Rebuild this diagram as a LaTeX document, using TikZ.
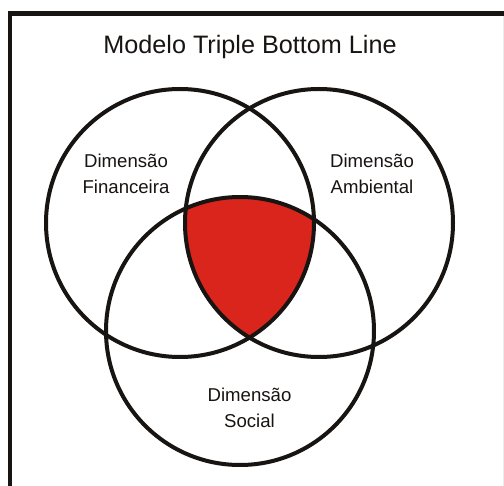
\documentclass[tikz,border=0pt]{standalone}
\usepackage{fontspec}
\setmainfont{Liberation Sans}
\definecolor{vred}{RGB}{218,37,28}
\definecolor{vink}{RGB}{24,20,18}
\begin{document}
\begin{tikzpicture}[x=1pt,y=-1pt,
  ring/.style={draw=vink,line width=4pt},
  frameline/.style={draw=vink,line width=4.5pt},
  lbl/.style={align=center,inner sep=0pt,anchor=base,text=vink,font=\fontsize{18.6}{25.5}\selectfont},
  ttl/.style={inner sep=0pt,anchor=base,text=vink,font=\fontsize{25.2}{30}\selectfont}]
\useasboundingbox (0,0) rectangle (504,486);
\fill[white] (0,0) rectangle (504,486);
% frame
\coordinate (fa) at (10,486);
\coordinate (fb) at (10,13.5);
\coordinate (fc) at (504,13.5);
\draw[frameline,line cap=butt] (fa) -- (fb) -- (fc);
\coordinate (ra) at (503,16);
\coordinate (rb) at (503,486);
\draw[gray!15,line width=1pt] (ra) -- (rb);
% circles
\coordinate (A) at (180,223);
\coordinate (B) at (319,223);
\coordinate (C) at (240,331);
\begin{scope}
\clip (A) circle[radius=134];
\clip (B) circle[radius=134];
\fill[vred] (C) circle[radius=134];
\end{scope}
\draw[ring] (A) circle[radius=134];
\draw[ring] (B) circle[radius=134];
\draw[ring] (C) circle[radius=134];
% texts
\node[ttl] (title) at (250,54) {Modelo Triple Bottom Line};
\node[lbl] (fin) at (126,193.5) {Dimensão\\Financeira};
\node[lbl] (amb) at (372,193.5) {Dimensão\\Ambiental};
\node[lbl] (soc) at (249.5,427.5) {Dimensão\\Social};
\end{tikzpicture}
\end{document}
